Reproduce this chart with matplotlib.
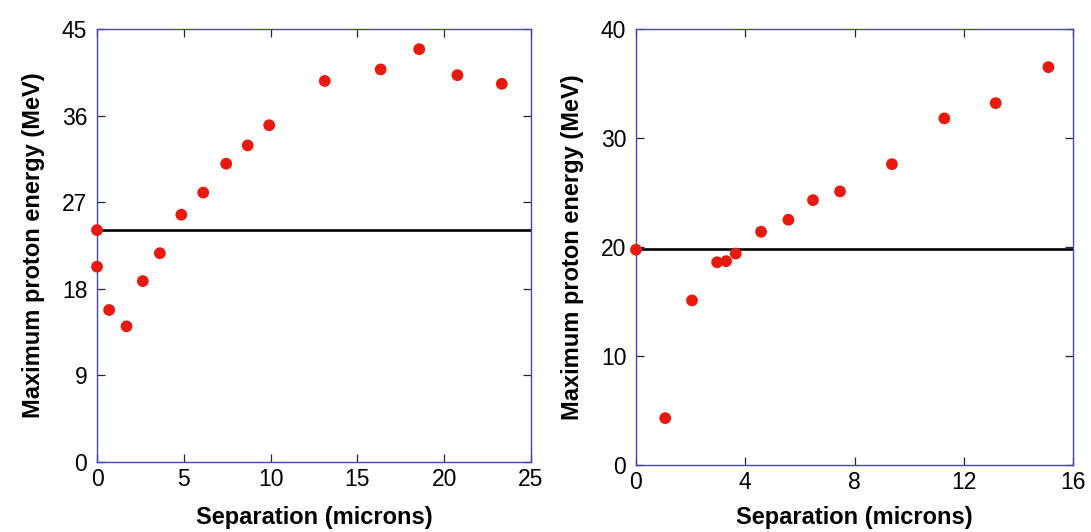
import matplotlib.pyplot as plt

plt.rcParams['font.family'] = ['Liberation Sans', 'DejaVu Sans']

# left panel: separation (microns) vs max proton energy (MeV)
sep_a = [0.0, 0.0, 0.7, 1.7, 2.64, 3.62, 4.86, 6.12, 7.44, 8.68, 9.92,
         13.12, 16.34, 18.56, 20.76, 23.32]
energy_a = [24.1, 20.3, 15.8, 14.1, 18.8, 21.7, 25.7, 28.0, 31.0, 32.9, 35.0,
            39.6, 40.8, 42.9, 40.2, 39.3]
ref_a = 24.1

# right panel
sep_b = [0.0, 1.07, 2.05, 2.97, 3.3, 3.65, 4.58, 5.58, 6.48, 7.47, 9.37,
         11.29, 13.17, 15.1]
energy_b = [19.75, 4.3, 15.1, 18.6, 18.7, 19.4, 21.4, 22.5, 24.3, 25.1, 27.6,
            31.8, 33.2, 36.5]
ref_b = 19.8

xticks_a = [0, 5, 10, 15, 20, 25]
yticks_a = [0, 9, 18, 27, 36, 45]
xticks_b = [0, 4, 8, 12, 16]
yticks_b = [0, 10, 20, 30, 40]

fig = plt.figure(figsize=(10.91, 5.32), dpi=100)
W, H = 1091, 532
ax1 = fig.add_axes([97 / W, 1 - 462 / H, (531 - 97) / W, (462 - 29) / H])
ax2 = fig.add_axes([636 / W, 1 - 465 / H, (1073 - 636) / W, (465 - 29) / H])

red = '#e8190f'
spine_col = '#4646b0'

for ax, xs, ys, ref, xt, yt, lp in [(ax1, sep_a, energy_a, ref_a, xticks_a, yticks_a, 11),
                                    (ax2, sep_b, energy_b, ref_b, xticks_b, yticks_b, 9)]:
    ax.axhline(ref, color='black', lw=1.9, zorder=2)
    ax.scatter(xs, ys, s=72, color=red, edgecolors='none', zorder=3, clip_on=False)
    ax.set_xlim(xt[0], xt[-1])
    ax.set_ylim(yt[0], yt[-1])
    ax.set_xticks(xt)
    ax.set_yticks(yt)
    for s in ax.spines.values():
        s.set_color(spine_col)
        s.set_linewidth(1.0)
    ax.tick_params(direction='in', length=6, width=0.9, color='#222244',
                   top=True, right=True, labelsize=16.5, pad=7)
    ax.tick_params(axis='x', pad=4)
    ax.set_xlabel('Separation (microns)', fontsize=17, fontweight='bold', labelpad=lp)
    ax.set_ylabel('Maximum proton energy (MeV)', fontsize=17, fontweight='bold', labelpad=12)

fig.savefig('out.png', dpi=100)
